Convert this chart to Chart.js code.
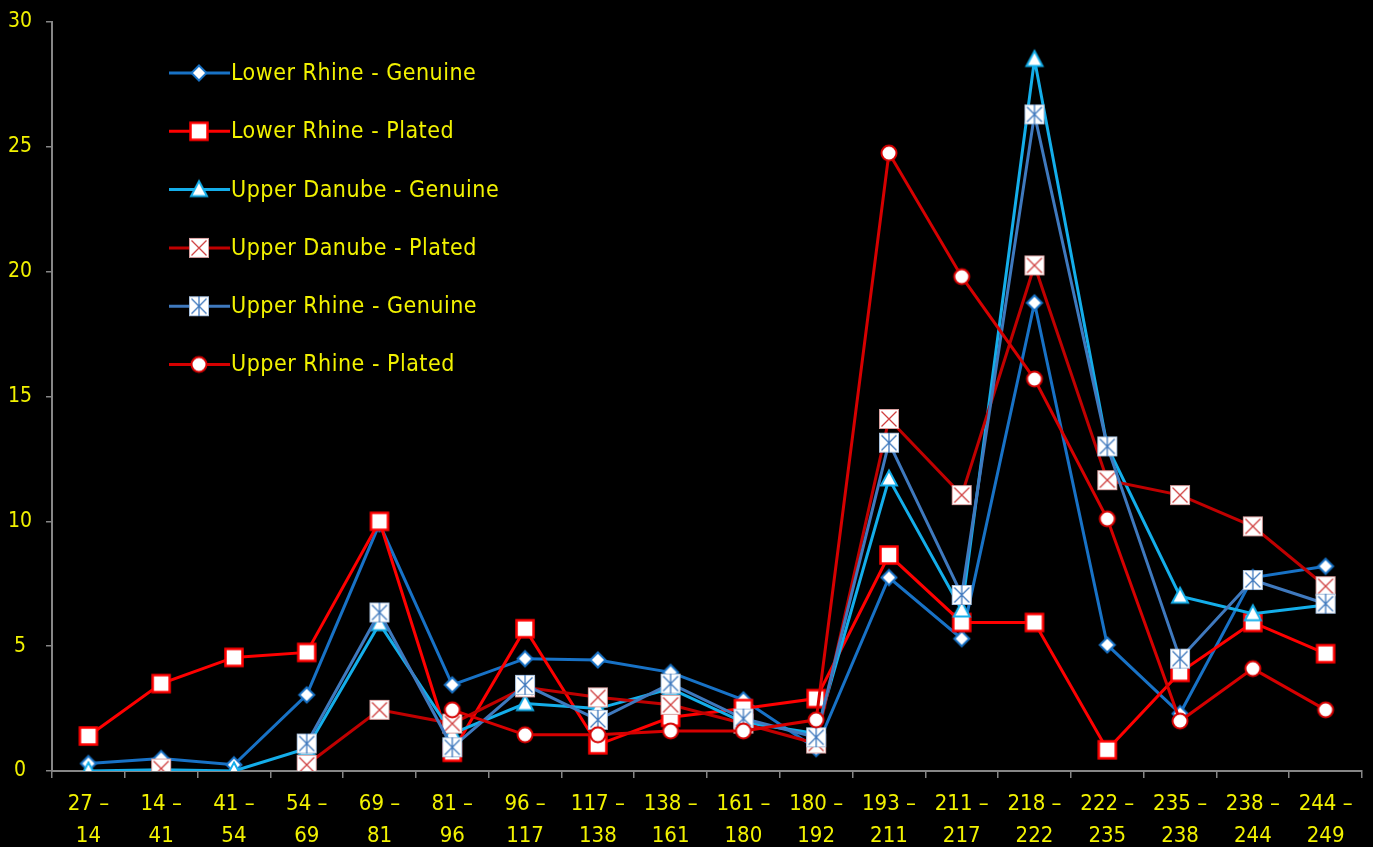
<!DOCTYPE html>
<html>
<head>
<meta charset="utf-8">
<script src="https://cdn.jsdelivr.net/npm/chart.js@4"></script>
<style>
  html, body { margin: 0; padding: 0; background: #000; }
  #wrap { width: 1373px; height: 847px; position: relative; }
</style>
</head>
<body>
<div id="wrap"><canvas id="chart"></canvas></div>
<script>
// Categories (year ranges)
const rangeStart = [27, 14, 41, 54, 69, 81, 96, 117, 138, 161, 180, 193, 211, 218, 222, 235, 238, 244];
const rangeEnd = [14, 41, 54, 69, 81, 96, 117, 138, 161, 180, 192, 211, 217, 222, 235, 238, 244, 249];

// Series values
const lowerRhineGenuine = [0.3, 0.5, 0.25, 3.05, 9.9, 3.45, 4.5, 4.45, 3.95, 2.85, 0.9, 7.75, 5.3, 18.75, 5.05, 2.3, 7.75, 8.2];
const lowerRhinePlated = [1.4, 3.5, 4.55, 4.75, 10, 0.75, 5.7, 1.05, 2.15, 2.5, 2.9, 8.65, 5.95, 5.95, 0.85, 3.95, 5.95, 4.7];
const upperDanubeGenuine = [0, 0.05, 0, 0.9, 5.9, 1.5, 2.7, 2.5, 3.3, 1.95, 1.5, 11.7, 6.45, 28.5, 13.0, 7.0, 6.3, 6.65];
const upperDanubePlated = [null, 0.1, null, 0.25, 2.45, 1.9, 3.35, 2.95, 2.65, 1.9, 1.1, 14.1, 11.05, 20.25, 11.65, 11.05, 9.8, 7.4];
const upperRhineGenuine = [null, null, null, 1.1, 6.35, 0.95, 3.45, 2.05, 3.5, 2.1, 1.35, 13.15, 7.05, 26.3, 13.0, 4.5, 7.65, 6.7];
const upperRhinePlated = [null, null, null, null, null, 2.45, 1.45, 1.45, 1.6, 1.6, 2.05, 24.75, 19.8, 15.7, 10.1, 2.0, 4.1, 2.45];

const seriesNames = [
    "Lower Rhine - Genuine",
    "Lower Rhine - Plated",
    "Upper Danube - Genuine",
    "Upper Danube - Plated",
    "Upper Rhine - Genuine",
    "Upper Rhine - Plated"
];

// Y axis ticks
const yMin = 0;
const yMax = 30;
const yStep = 5;

const labels = rangeStart.map((s, i) => [s + " \u2013", String(rangeEnd[i])]);

const yellow = "#F2F200";
const axisGrey = "#868686";
const labelFont = "'DejaVu Sans Condensed', sans-serif";

// Marker images
function makeMarker(kind, color) {
    const c = document.createElement("canvas");
    c.width = 24;
    c.height = 24;
    const g = c.getContext("2d");
    const m = 12;
    g.fillStyle = "#fff";
    g.strokeStyle = color;

    if (kind === "diamond") {
        g.lineWidth = 2;
        g.beginPath();
        g.moveTo(m, m - 7.5);
        g.lineTo(m + 7.5, m);
        g.lineTo(m, m + 7.5);
        g.lineTo(m - 7.5, m);
        g.closePath();
        g.fill();
        g.stroke();
    } else if (kind === "square") {
        g.lineWidth = 2.5;
        g.fillRect(m - 8.5, m - 8.5, 17, 17);
        g.strokeRect(m - 8.5, m - 8.5, 17, 17);
    } else if (kind === "triangle") {
        g.lineWidth = 2;
        g.beginPath();
        g.moveTo(m, m - 8.5);
        g.lineTo(m + 8, m + 6.5);
        g.lineTo(m - 8, m + 6.5);
        g.closePath();
        g.fill();
        g.stroke();
    } else if (kind === "squareX") {
        g.fillRect(m - 10, m - 10, 20, 20);
        g.lineWidth = 1;
        g.strokeStyle = "#d8a0a0";
        g.strokeRect(m - 9.5, m - 9.5, 19, 19);
        g.strokeStyle = color;
        g.lineWidth = 1.3;
        g.beginPath();
        g.moveTo(m - 7.5, m - 7.5);
        g.lineTo(m + 7.5, m + 7.5);
        g.moveTo(m + 7.5, m - 7.5);
        g.lineTo(m - 7.5, m + 7.5);
        g.stroke();
    } else if (kind === "squareStar") {
        g.fillRect(m - 10, m - 10, 20, 20);
        g.lineWidth = 1;
        g.strokeStyle = "#a8c0dc";
        g.strokeRect(m - 9.5, m - 9.5, 19, 19);
        g.strokeStyle = color;
        g.lineWidth = 1.3;
        g.beginPath();
        g.moveTo(m - 7.5, m - 7.5);
        g.lineTo(m + 7.5, m + 7.5);
        g.moveTo(m + 7.5, m - 7.5);
        g.lineTo(m - 7.5, m + 7.5);
        g.moveTo(m, m - 10);
        g.lineTo(m, m + 10);
        g.stroke();
    } else if (kind === "circle") {
        g.lineWidth = 2;
        g.beginPath();
        g.arc(m, m, 7.5, 0, Math.PI * 2);
        g.fill();
        g.stroke();
    }
    return c;
}

const seriesValues = [lowerRhineGenuine, lowerRhinePlated, upperDanubeGenuine, upperDanubePlated, upperRhineGenuine, upperRhinePlated];
const lineColors = ["#1872C6", "#FF0000", "#14AEEA", "#C00000", "#3F79BE", "#D60000"];
const markers = [
    makeMarker("diamond", "#1872C6"),
    makeMarker("square", "#FF0000"),
    makeMarker("triangle", "#14AEEA"),
    makeMarker("squareX", "#D04040"),
    makeMarker("squareStar", "#3F79BE"),
    makeMarker("circle", "#D60000")
];

const datasets = seriesNames.map((name, i) => ({
    label: name,
    data: seriesValues[i],
    borderColor: lineColors[i],
    backgroundColor: lineColors[i],
    borderWidth: 3,
    tension: 0,
    pointStyle: markers[i],
    pointRadius: 8,
    pointHoverRadius: 8,
    spanGaps: false,
    order: seriesNames.length - i
}));

// Legend drawn inside the plot area
const insideLegend = {
    id: "insideLegend",
    afterDatasetsDraw(chart) {
        const ctx = chart.ctx;
        const x0 = chart.chartArea.left + 117;
        const y0 = chart.chartArea.top + 51;
        chart.data.datasets.forEach((ds, i) => {
            const y = y0 + i * 58.3;
            ctx.save();
            ctx.strokeStyle = ds.borderColor;
            ctx.lineWidth = 3;
            ctx.beginPath();
            ctx.moveTo(x0, y);
            ctx.lineTo(x0 + 61, y);
            ctx.stroke();
            const img = ds.pointStyle;
            ctx.drawImage(img, x0 + 30 - img.width / 2, y - img.height / 2);
            ctx.fillStyle = yellow;
            ctx.font = "23px " + labelFont;
            ctx.letterSpacing = "0.5px";
            ctx.textBaseline = "middle";
            ctx.fillText(ds.label, x0 + 62, y + 1);
            ctx.restore();
        });
    }
};

const ctx = document.getElementById("chart").getContext("2d");

const chart = new Chart(ctx, {
    type: "line",
    data: {
        labels: labels,
        datasets: datasets
    },
    options: {
        responsive: true,
        maintainAspectRatio: false,
        animation: false,
        layout: {
            padding: { top: 22, right: 8, left: 0, bottom: 0 }
        },
        plugins: {
            legend: { display: false },
            tooltip: { enabled: false }
        },
        scales: {
            x: {
                offset: true,
                afterFit(scale) {
                    scale.height = 76;
                },
                grid: {
                    display: true,
                    offset: true,
                    drawOnChartArea: false,
                    drawTicks: true,
                    tickLength: 7,
                    color: axisGrey,
                    lineWidth: 1.5
                },
                border: { color: axisGrey, width: 2 },
                ticks: {
                    color: yellow,
                    autoSkip: false,
                    maxRotation: 0,
                    padding: 10,
                    font: {
                        family: labelFont,
                        size: 22,
                        lineHeight: 1.45
                    }
                }
            },
            y: {
                min: yMin,
                max: yMax,
                afterFit(scale) {
                    scale.width = 52;
                    scale.paddingTop = 0;
                    scale.paddingBottom = 0;
                },
                grid: {
                    display: true,
                    drawOnChartArea: false,
                    drawTicks: true,
                    tickLength: 6,
                    color: axisGrey,
                    lineWidth: 1.5
                },
                border: { color: axisGrey, width: 2 },
                ticks: {
                    stepSize: yStep,
                    color: yellow,
                    crossAlign: "center",
                    padding: 14,
                    font: {
                        family: labelFont,
                        size: 21
                    }
                }
            }
        }
    },
    plugins: [insideLegend]
});
</script>
</body>
</html>
